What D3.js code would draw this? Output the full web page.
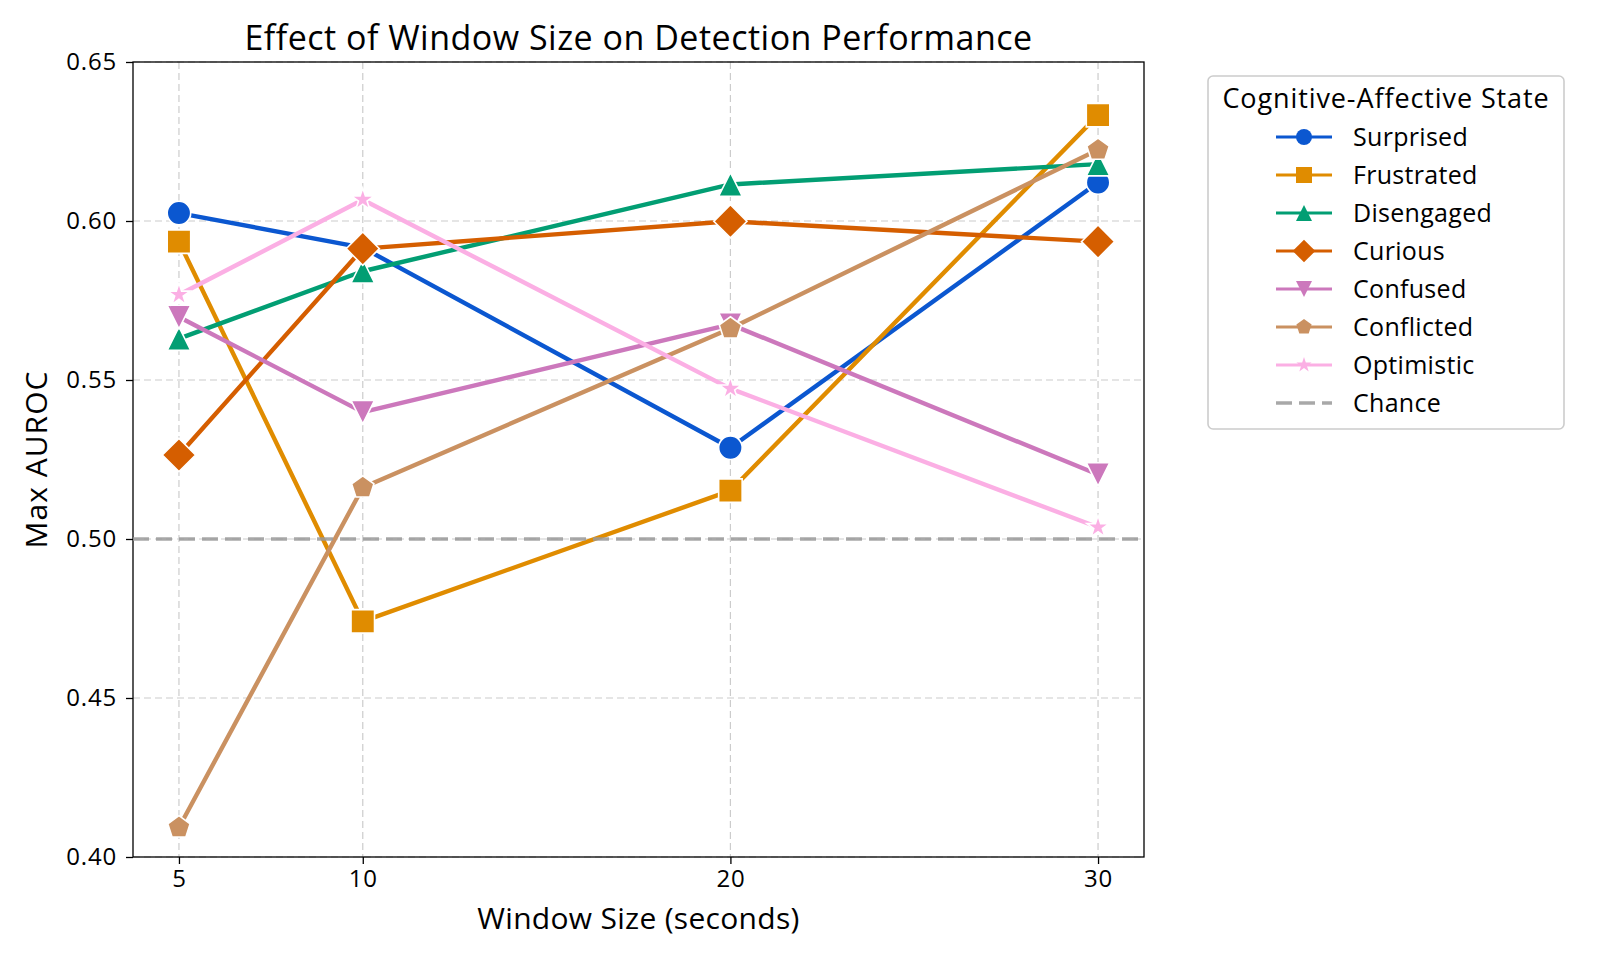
<!DOCTYPE html>
<html>
<head>
<meta charset="utf-8">
<script src="https://cdn.jsdelivr.net/npm/d3@7"></script>
<style>
  body { margin: 0; background: #fff; }
  svg { font-family: "Open Sans", Roboto, sans-serif; }
</style>
</head>
<body>
<script>
// Window sizes (x) and the max AUROC for each cognitive-affective state
const windowSizes = [5, 10, 20, 30];
const surprised  = [0.6025, 0.5916, 0.5287, 0.6121];
const frustrated = [0.5935, 0.4741, 0.5152, 0.6333];
const disengaged = [0.5630, 0.5842, 0.6115, 0.6179];
const curious    = [0.5264, 0.5913, 0.5999, 0.5935];
const confused   = [0.5698, 0.5399, 0.5675, 0.5203];
const conflicted = [0.4093, 0.5162, 0.5662, 0.6224];
const optimistic = [0.5768, 0.6067, 0.5473, 0.5037];
const chance = 0.5;

const stateNames = ["Surprised","Frustrated","Disengaged","Curious","Confused","Conflicted","Optimistic"];
const stateColors = ["#0b57d0","#e08c00","#029e73","#d55e00","#cc78bc","#ca9161","#fbafe4"];
const stateMarkers = ["circle","square","triangleUp","diamond","triangleDown","pentagon","star"];
const stateValues = [surprised, frustrated, disengaged, curious, confused, conflicted, optimistic];

const xTicks = [5, 10, 20, 30];
const yTicks = [0.40, 0.45, 0.50, 0.55, 0.60, 0.65];

const width = 1600, height = 960;
const margin = {top: 62, right: 456, bottom: 103, left: 133};

const svg = d3.select("body").append("svg")
  .attr("width", width)
  .attr("height", height);

const x = d3.scaleLinear()
  .domain([3.75, 31.25])
  .range([margin.left, width - margin.right]);

const y = d3.scaleLinear()
  .domain([0.40, 0.65])
  .range([height - margin.bottom, margin.top]);

// marker paths, sized like matplotlib markers (ms = marker size in px)
function markerPath(type, ms) {
  const h = ms / 2;
  const poly = function(pts){ return "M" + pts.map(function(p){ return p[0].toFixed(2) + "," + p[1].toFixed(2); }).join("L") + "Z"; };
  if (type == "circle") {
    return "M" + h + ",0A" + h + "," + h + " 0 1,1 " + (-h) + ",0A" + h + "," + h + " 0 1,1 " + h + ",0Z";
  }
  if (type == "square") return poly([[-h,-h],[h,-h],[h,h],[-h,h]]);
  if (type == "triangleUp") return poly([[0,-h],[h,h],[-h,h]]);
  if (type == "triangleDown") return poly([[0,h],[h,-h],[-h,-h]]);
  if (type == "diamond") {
    const d = ms * Math.SQRT1_2;
    return poly([[0,-d],[d,0],[0,d],[-d,0]]);
  }
  if (type == "pentagon") {
    return poly(d3.range(5).map(function(i){
      const a = -Math.PI/2 + i * 2*Math.PI/5;
      return [h*Math.cos(a), h*Math.sin(a)];
    }));
  }
  if (type == "star") {
    const r2 = h * 0.381966;
    return poly(d3.range(10).map(function(i){
      const a = -Math.PI/2 + i * Math.PI/5;
      const r = i % 2 == 0 ? h : r2;
      return [r*Math.cos(a), r*Math.sin(a)];
    }));
  }
}

// grid
const grid = svg.append("g");
grid.selectAll("line.gx")
  .data(xTicks)
  .enter().append("line")
  .attr("x1", function(d){ return x(d); })
  .attr("x2", function(d){ return x(d); })
  .attr("y1", margin.top)
  .attr("y2", height - margin.bottom)
  .attr("stroke", "#cccccc")
  .attr("stroke-width", 1.2)
  .attr("stroke-dasharray", "7,4");
grid.selectAll("line.gy")
  .data(yTicks)
  .enter().append("line")
  .attr("x1", margin.left)
  .attr("x2", width - margin.right)
  .attr("y1", function(d){ return y(d); })
  .attr("y2", function(d){ return y(d); })
  .attr("stroke", "#cccccc")
  .attr("stroke-width", 1.2)
  .attr("stroke-dasharray", "7,4");

// axes
const xAxis = svg.append("g")
  .attr("transform", "translate(0," + (height - margin.bottom) + ")")
  .call(d3.axisBottom(x).tickValues(xTicks).tickSize(7).tickPadding(6).tickFormat(d3.format("d")));
const yAxis = svg.append("g")
  .attr("transform", "translate(" + margin.left + ",0)")
  .call(d3.axisLeft(y).tickValues(yTicks).tickSize(7).tickPadding(9).tickFormat(d3.format(".2f")));
[xAxis, yAxis].forEach(function(a){
  a.select(".domain").remove();
  a.selectAll("line").attr("stroke", "#000").attr("stroke-width", 1.3);
  a.selectAll("text").attr("font-size", "24px").attr("fill", "#000")
    .attr("letter-spacing", "0.8px")
    .attr("font-family", "'Open Sans', sans-serif");
});

// frame
svg.append("rect")
  .attr("x", margin.left)
  .attr("y", margin.top)
  .attr("width", width - margin.right - margin.left)
  .attr("height", height - margin.bottom - margin.top)
  .attr("fill", "none")
  .attr("stroke", "#000")
  .attr("stroke-width", 1.3);

// series
const line = d3.line()
  .x(function(d){ return x(d.x); })
  .y(function(d){ return y(d.y); });

stateNames.forEach(function(name, i){
  const pts = windowSizes.map(function(w, j){ return {x: w, y: stateValues[i][j]}; });
  const g = svg.append("g");
  g.append("path")
    .datum(pts)
    .attr("d", line)
    .attr("fill", "none")
    .attr("stroke", stateColors[i])
    .attr("stroke-width", 4.4)
    .attr("stroke-linejoin", "round");
  g.selectAll("path.mk")
    .data(pts)
    .enter().append("path")
    .attr("class", "mk")
    .attr("transform", function(d){ return "translate(" + x(d.x) + "," + y(d.y) + ")"; })
    .attr("d", markerPath(stateMarkers[i], 23.5))
    .attr("fill", stateColors[i])
    .attr("stroke", "#fff")
    .attr("stroke-width", 1.6)
    .attr("stroke-linejoin", "miter");
});

// chance line
svg.append("line")
  .attr("x1", margin.left)
  .attr("x2", width - margin.right)
  .attr("y1", y(chance))
  .attr("y2", y(chance))
  .attr("stroke", "#999999")
  .attr("stroke-opacity", 0.85)
  .attr("stroke-width", 3.6)
  .attr("stroke-dasharray", "16,7");

// title and axis labels
svg.append("text")
  .attr("x", (margin.left + width - margin.right) / 2)
  .attr("y", 50)
  .attr("text-anchor", "middle")
  .attr("font-size", "34px")
  .attr("letter-spacing", "0.5px")
  .text("Effect of Window Size on Detection Performance");

svg.append("text")
  .attr("x", (margin.left + width - margin.right) / 2)
  .attr("y", 929)
  .attr("text-anchor", "middle")
  .attr("font-size", "30px")
  .attr("letter-spacing", "0.3px")
  .text("Window Size (seconds)");

svg.append("text")
  .attr("transform", "rotate(-90)")
  .attr("x", -(margin.top + height - margin.bottom) / 2)
  .attr("y", 47)
  .attr("text-anchor", "middle")
  .attr("font-size", "30px")
  .attr("letter-spacing", "1px")
  .text("Max AUROC");

// legend
const legend = svg.append("g");
legend.append("rect")
  .attr("x", 1208)
  .attr("y", 76)
  .attr("width", 356)
  .attr("height", 353)
  .attr("rx", 5)
  .attr("fill", "#fff")
  .attr("stroke", "#cccccc")
  .attr("stroke-width", 1.6);

legend.append("text")
  .attr("x", 1386)
  .attr("y", 108)
  .attr("text-anchor", "middle")
  .attr("font-size", "27px")
  .attr("letter-spacing", "0.9px")
  .text("Cognitive-Affective State");

const legendItems = stateNames.concat(["Chance"]);
const rowY = function(i){ return 137 + i * 38; };

legend.selectAll("line.ll")
  .data(legendItems)
  .enter().append("line")
  .attr("x1", 1276)
  .attr("x2", 1332)
  .attr("y1", function(d, i){ return rowY(i); })
  .attr("y2", function(d, i){ return rowY(i); })
  .attr("stroke", function(d, i){ return i < stateColors.length ? stateColors[i] : "#999999"; })
  .attr("stroke-opacity", function(d, i){ return i < stateColors.length ? 1 : 0.85; })
  .attr("stroke-width", function(d, i){ return i < stateColors.length ? 3.2 : 3.6; })
  .attr("stroke-dasharray", function(d, i){ return i < stateColors.length ? null : "16,7"; });

legend.selectAll("path.lm")
  .data(stateNames)
  .enter().append("path")
  .attr("transform", function(d, i){ return "translate(1304," + rowY(i) + ")"; })
  .attr("d", function(d, i){ return markerPath(stateMarkers[i], 16); })
  .attr("fill", function(d, i){ return stateColors[i]; });

legend.selectAll("text.lt")
  .data(legendItems)
  .enter().append("text")
  .attr("x", 1353)
  .attr("y", function(d, i){ return rowY(i) + 9; })
  .attr("font-size", "25px")
  .attr("letter-spacing", "0.3px")
  .text(function(d){ return d; });
</script>
</body>
</html>
